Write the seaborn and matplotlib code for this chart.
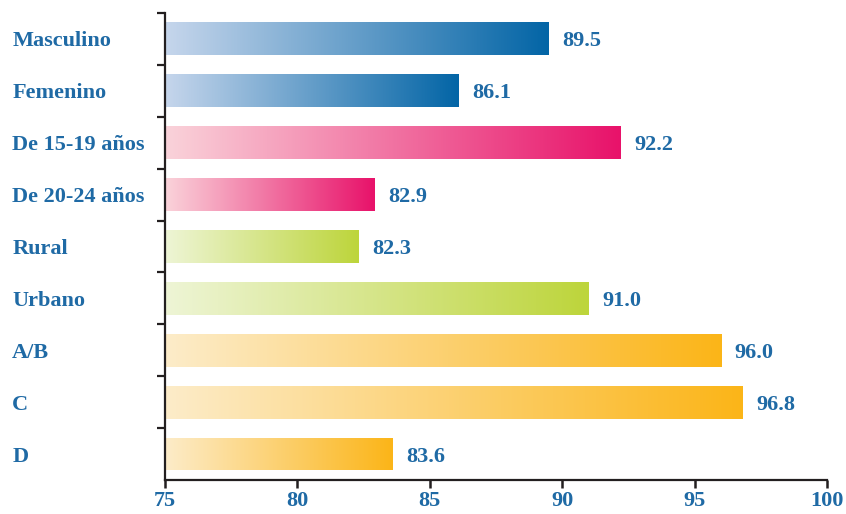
import numpy as np
import matplotlib.pyplot as plt
from matplotlib.colors import LinearSegmentedColormap
import seaborn as sns

labels = ['Masculino', 'Femenino', 'De 15-19 años', 'De 20-24 años',
          'Rural', 'Urbano', 'A/B', 'C', 'D']
values = [89.5, 86.1, 92.2, 82.9, 82.3, 91.0, 96.0, 96.8, 83.6]
groups = ['sexo', 'sexo', 'edad', 'edad', 'area', 'area', 'nse', 'nse', 'nse']
group_colors = {
    'sexo': ('#c6d6ec', '#0365a6'),
    'edad': ('#fad3da', '#e8126a'),
    'area': ('#eef5d6', '#bdd53b'),
    'nse': ('#fdecc9', '#fbb518'),
}
xticks = [75, 80, 85, 90, 95, 100]

sns.set_style('ticks')
plt.rcParams['font.family'] = ['Liberation Serif', 'DejaVu Serif']
text_color = '#1f6aa5'
axis_color = '#231f20'

fig, ax = plt.subplots(figsize=(8.46, 5.14), dpi=100)
fig.subplots_adjust(left=0.195, right=0.9775, bottom=0.066, top=0.975)

sns.barplot(x=values, y=labels, orient='h', width=0.63, color='white', ax=ax)

grad = np.linspace(0, 1, 256).reshape(1, -1)
for bar, val, grp in zip(ax.patches, values, groups):
    y0, h = bar.get_y(), bar.get_height()
    cmap = LinearSegmentedColormap.from_list(grp, group_colors[grp])
    im = ax.imshow(grad, cmap=cmap, extent=[75, val, y0 + h, y0],
                   aspect='auto', zorder=2)
    im.set_clip_path(bar)
    bar.set_facecolor('none')
    bar.set_edgecolor('none')
    ax.text(val + 0.52, y0 + h / 2 + 0.05, f'{val:.1f}', va='center', ha='left',
            fontsize=16, fontweight='bold', color=text_color)

ax.set_xlim(75, 100)
ax.set_ylim(8.5, -0.5)
ax.set_xticks(xticks)
ax.set_xlabel('')
ax.set_ylabel('')

# category labels, left aligned, no tick mark
ax.tick_params(axis='y', which='major', length=0, pad=110)
for t in ax.get_yticklabels():
    t.set_ha('left')
    t.set_color(text_color)
    t.set_fontsize(16)
    t.set_fontweight('bold')

# tick marks between categories
ax.set_yticks(np.arange(-0.5, 8, 1), minor=True)
ax.tick_params(axis='y', which='minor', length=5.5, width=1.6, color=axis_color,
               direction='out')
ax.tick_params(axis='x', length=6, width=1.8, color=axis_color, direction='out',
               labelsize=16, labelcolor=text_color, pad=2)
for t in ax.get_xticklabels():
    t.set_fontweight('bold')

sns.despine(ax=ax)
for side in ['left', 'bottom']:
    ax.spines[side].set_linewidth(1.6)
    ax.spines[side].set_color(axis_color)

fig.savefig('out.png', dpi=100)
